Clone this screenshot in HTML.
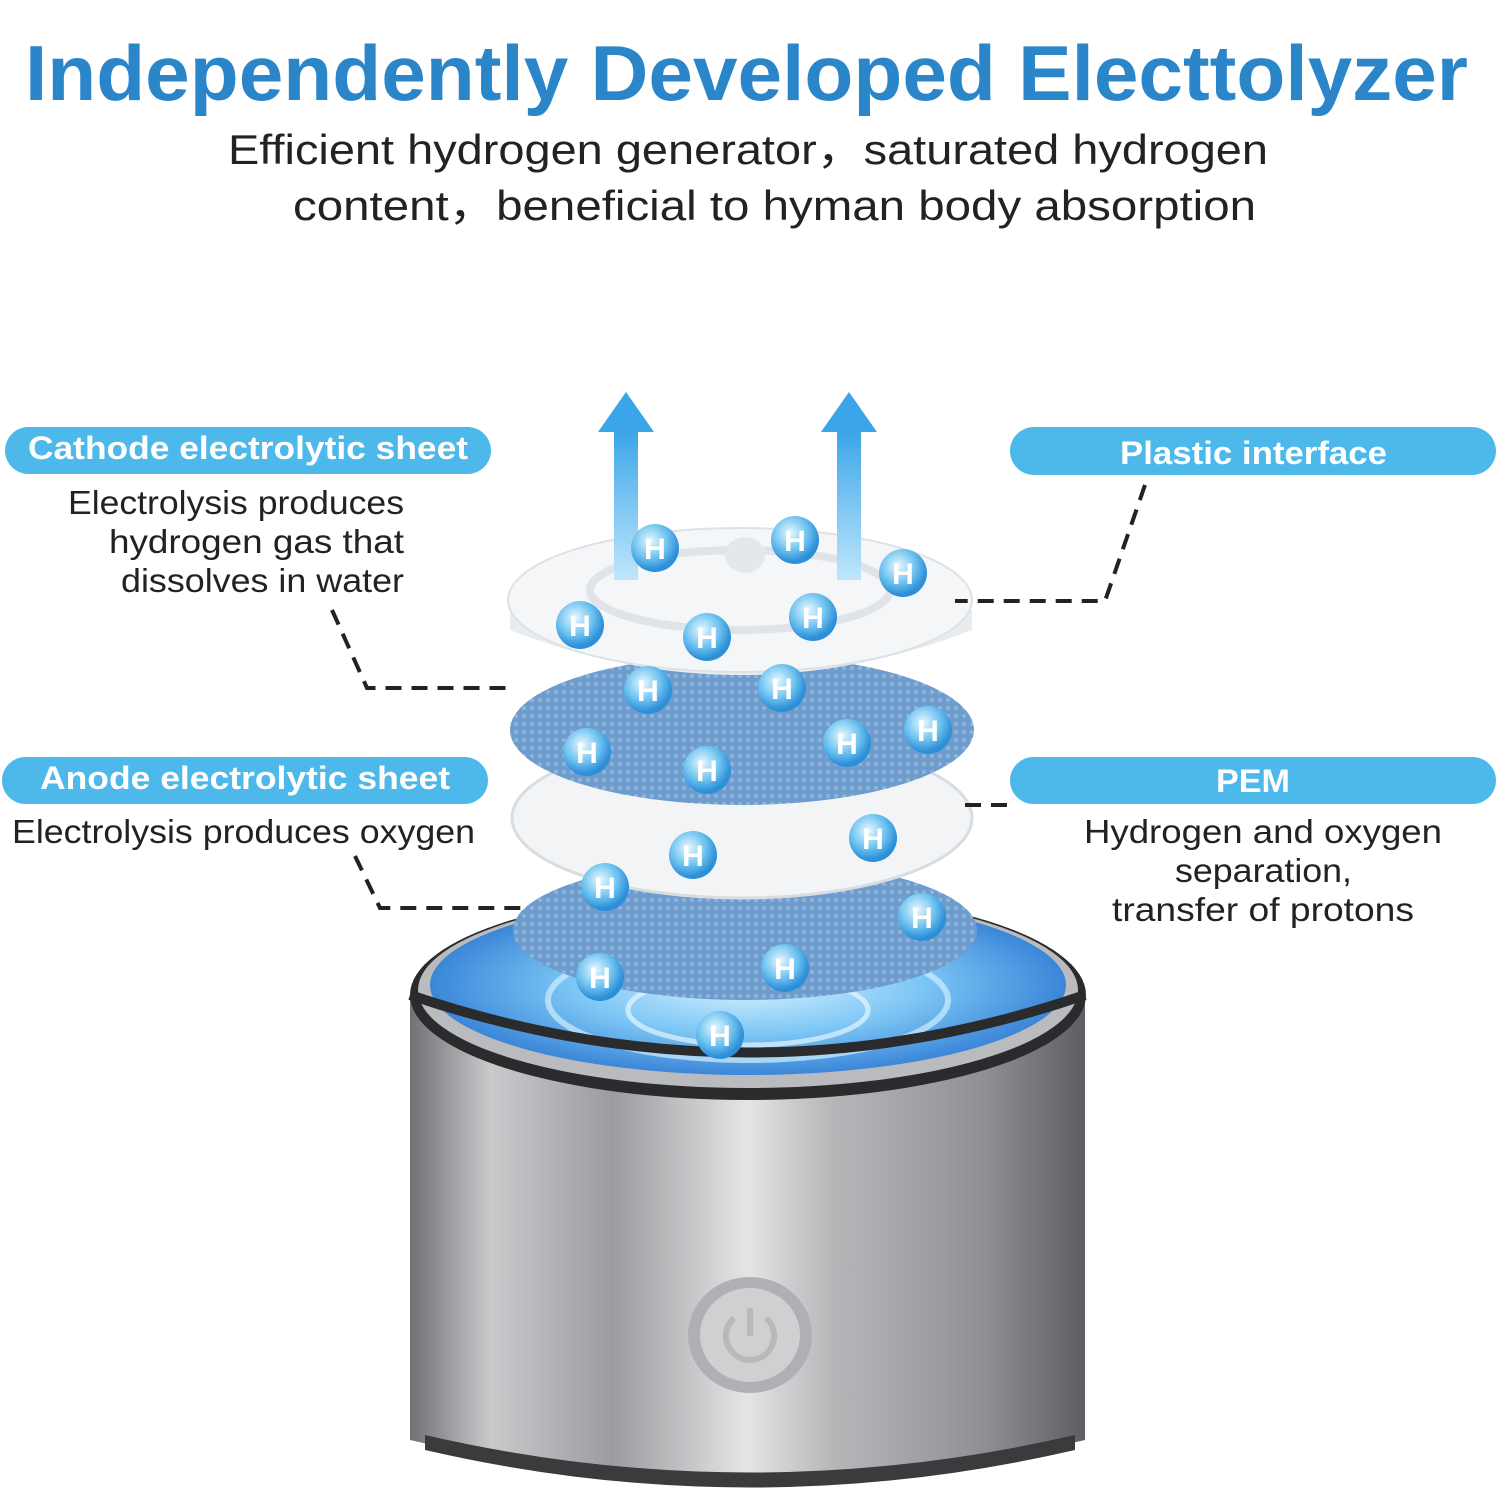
<!DOCTYPE html>
<html><head><meta charset="utf-8"><style>
html,body{margin:0;padding:0;background:#fff}
svg{display:block}
text{font-family:"Liberation Sans","DejaVu Sans",sans-serif}
</style></head><body>
<svg width="1500" height="1500" viewBox="0 0 1500 1500" xmlns="http://www.w3.org/2000/svg">
<defs>
<linearGradient id="steel" x1="0" x2="1" y1="0" y2="0">
<stop offset="0" stop-color="#6f7174"/><stop offset="0.12" stop-color="#c9cacc"/><stop offset="0.3" stop-color="#9a9c9f"/><stop offset="0.5" stop-color="#e4e5e6"/><stop offset="0.62" stop-color="#b7b8ba"/><stop offset="0.85" stop-color="#8e9093"/><stop offset="1" stop-color="#5d5f62"/>
</linearGradient>
<radialGradient id="glow" cx="0.5" cy="0.5" r="0.5">
<stop offset="0" stop-color="#d8f2ff"/><stop offset="0.55" stop-color="#7cc6f5"/><stop offset="1" stop-color="#3b86d8"/>
</radialGradient>
<radialGradient id="bub" cx="0.4" cy="0.35" r="0.6">
<stop offset="0" stop-color="#e8f8ff"/><stop offset="0.6" stop-color="#6fc3f0"/><stop offset="1" stop-color="#2d8fd8"/>
</radialGradient>
<pattern id="mesh" width="8" height="8" patternUnits="userSpaceOnUse">
<rect width="8" height="8" fill="#6e9ccc"/><circle cx="4" cy="4" r="2" fill="#8fb5dc"/>
</pattern>
<linearGradient id="arrow" x1="0" x2="0" y1="0" y2="1">
<stop offset="0" stop-color="#3aa5e8"/><stop offset="1" stop-color="#bfe6fb"/>
</linearGradient>
</defs>

<text x="25" y="100" textLength="1443" lengthAdjust="spacingAndGlyphs" font-size="78" font-weight="bold" fill="#2a86c9">Independently Developed Electtolyzer</text>
<text x="228" y="164" textLength="1040" lengthAdjust="spacingAndGlyphs" font-size="42" fill="#222">Efficient hydrogen generator，saturated hydrogen</text>
<text x="293" y="220" textLength="963" lengthAdjust="spacingAndGlyphs" font-size="42" fill="#222">content，beneficial to hyman body absorption</text>

<!-- device body -->
<path d="M410 995 L410 1440 Q750 1520 1085 1440 L1085 995 Z" fill="url(#steel)"/>
<path d="M425 1435 Q750 1510 1075 1435 L1075 1450 Q750 1525 425 1450Z" fill="#3a3b3d"/>
<ellipse cx="748" cy="995" rx="338" ry="105" fill="#2a2b2d"/>
<ellipse cx="748" cy="990" rx="330" ry="98" fill="#b9bbbe"/>
<ellipse cx="748" cy="985" rx="318" ry="90" fill="url(#glow)"/>
<ellipse cx="748" cy="1000" rx="200" ry="60" fill="none" stroke="#cfeeff" stroke-width="6" opacity="0.7"/>
<ellipse cx="748" cy="1010" rx="120" ry="35" fill="none" stroke="#e5f6ff" stroke-width="5" opacity="0.7"/>
<path d="M410 995 Q750 1110 1085 995" fill="none" stroke="#2a2b2d" stroke-width="10"/>
<!-- button -->
<ellipse cx="750" cy="1335" rx="62" ry="58" fill="#aeb0b3"/>
<ellipse cx="750" cy="1335" rx="50" ry="47" fill="#cfd0d2"/>
<path d="M734 1318 A24 24 0 1 0 766 1318" fill="none" stroke="#b8b9bb" stroke-width="6"/>
<line x1="750" y1="1308" x2="750" y2="1336" stroke="#b8b9bb" stroke-width="6"/>

<!-- discs -->
<ellipse cx="745" cy="930" rx="232" ry="70" fill="url(#mesh)"/>
<ellipse cx="742" cy="818" rx="230" ry="80" fill="#f2f4f6" stroke="#d8dde2" stroke-width="3"/>
<ellipse cx="742" cy="730" rx="232" ry="75" fill="url(#mesh)"/>
<path d="M510 610 L510 630 Q740 720 972 630 L972 610Z" fill="#e8ecef"/>
<ellipse cx="740" cy="600" rx="232" ry="72" fill="#f4f6f8" stroke="#dde2e6" stroke-width="2"/>
<ellipse cx="740" cy="590" rx="150" ry="40" fill="none" stroke="#e0e4e8" stroke-width="8"/>
<ellipse cx="745" cy="555" rx="20" ry="18" fill="#e4e8ec"/>

<!-- arrows -->
<rect x="614" y="430" width="24" height="150" fill="url(#arrow)"/>
<polygon points="598,432 626,392 654,432" fill="#3aa5e8"/>
<rect x="837" y="430" width="24" height="150" fill="url(#arrow)"/>
<polygon points="821,432 849,392 877,432" fill="#3aa5e8"/>

<!-- bubbles -->
<g font-size="30" font-weight="bold" fill="#fff" text-anchor="middle">
<g><circle cx="655" cy="548" r="24" fill="url(#bub)"/><text x="655" y="559">H</text></g>
<g><circle cx="795" cy="540" r="24" fill="url(#bub)"/><text x="795" y="551">H</text></g>
<g><circle cx="903" cy="573" r="24" fill="url(#bub)"/><text x="903" y="584">H</text></g>
<g><circle cx="580" cy="625" r="24" fill="url(#bub)"/><text x="580" y="636">H</text></g>
<g><circle cx="707" cy="637" r="24" fill="url(#bub)"/><text x="707" y="648">H</text></g>
<g><circle cx="813" cy="617" r="24" fill="url(#bub)"/><text x="813" y="628">H</text></g>
<g><circle cx="648" cy="690" r="24" fill="url(#bub)"/><text x="648" y="701">H</text></g>
<g><circle cx="782" cy="688" r="24" fill="url(#bub)"/><text x="782" y="699">H</text></g>
<g><circle cx="587" cy="752" r="24" fill="url(#bub)"/><text x="587" y="763">H</text></g>
<g><circle cx="707" cy="770" r="24" fill="url(#bub)"/><text x="707" y="781">H</text></g>
<g><circle cx="847" cy="743" r="24" fill="url(#bub)"/><text x="847" y="754">H</text></g>
<g><circle cx="928" cy="730" r="24" fill="url(#bub)"/><text x="928" y="741">H</text></g>
<g><circle cx="693" cy="855" r="24" fill="url(#bub)"/><text x="693" y="866">H</text></g>
<g><circle cx="873" cy="838" r="24" fill="url(#bub)"/><text x="873" y="849">H</text></g>
<g><circle cx="605" cy="887" r="24" fill="url(#bub)"/><text x="605" y="898">H</text></g>
<g><circle cx="922" cy="917" r="24" fill="url(#bub)"/><text x="922" y="928">H</text></g>
<g><circle cx="600" cy="977" r="24" fill="url(#bub)"/><text x="600" y="988">H</text></g>
<g><circle cx="785" cy="968" r="24" fill="url(#bub)"/><text x="785" y="979">H</text></g>
<g><circle cx="720" cy="1035" r="24" fill="url(#bub)"/><text x="720" y="1046">H</text></g>
</g>

<!-- pills -->
<rect x="5" y="427" width="486" height="47" rx="23.5" fill="#4db9ea"/>
<text x="28" y="459" textLength="440" lengthAdjust="spacingAndGlyphs" font-size="32" font-weight="bold" fill="#fff">Cathode electrolytic sheet</text>
<rect x="1010" y="427" width="486" height="48" rx="24" fill="#4db9ea"/>
<text x="1120" y="464" textLength="267" lengthAdjust="spacingAndGlyphs" font-size="32" font-weight="bold" fill="#fff">Plastic interface</text>
<rect x="2" y="757" width="486" height="47" rx="23.5" fill="#4db9ea"/>
<text x="40" y="789" textLength="410" lengthAdjust="spacingAndGlyphs" font-size="32" font-weight="bold" fill="#fff">Anode electrolytic sheet</text>
<rect x="1010" y="757" width="486" height="47" rx="23.5" fill="#4db9ea"/>
<text x="1216" y="792" textLength="74" lengthAdjust="spacingAndGlyphs" font-size="32" font-weight="bold" fill="#fff">PEM</text>

<!-- descriptions -->
<g font-size="33" fill="#222">
<text x="68" y="514" textLength="336" lengthAdjust="spacingAndGlyphs">Electrolysis produces</text>
<text x="109" y="553" textLength="295" lengthAdjust="spacingAndGlyphs">hydrogen gas that</text>
<text x="121" y="592" textLength="283" lengthAdjust="spacingAndGlyphs">dissolves in water</text>
<text x="12" y="843" textLength="463" lengthAdjust="spacingAndGlyphs">Electrolysis produces oxygen</text>
<text x="1084" y="843" textLength="358" lengthAdjust="spacingAndGlyphs">Hydrogen and oxygen</text>
<text x="1175" y="882" textLength="177" lengthAdjust="spacingAndGlyphs">separation,</text>
<text x="1112" y="921" textLength="302" lengthAdjust="spacingAndGlyphs">transfer of protons</text>
</g>

<!-- dashed leaders -->
<g stroke="#222" stroke-width="4" fill="none" stroke-dasharray="16,10">
<path d="M332 610 L367 688 L512 688"/>
<path d="M355 856 L380 908 L525 908"/>
<path d="M1145 485 L1105 601 L955 601"/>
<path d="M965 805 L1015 805"/>
</g>
</svg>
</body></html>
